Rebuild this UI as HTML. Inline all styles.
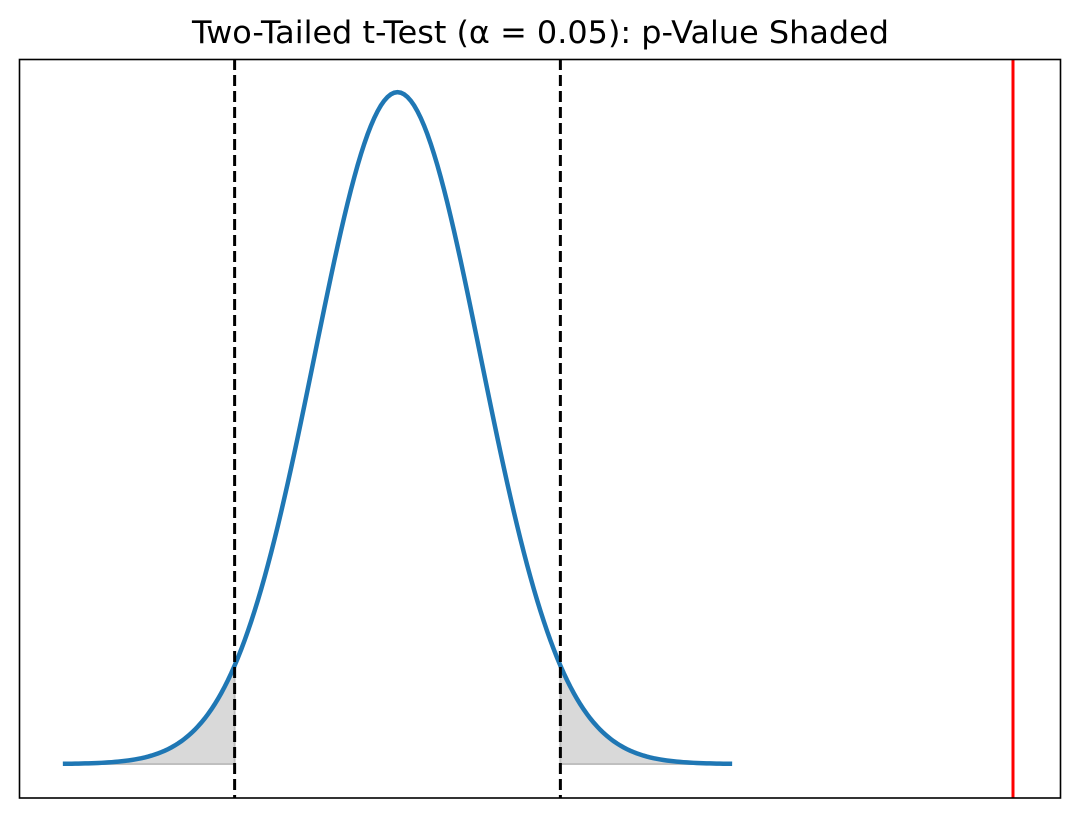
<!DOCTYPE html>
<html><head><meta charset="utf-8"><style>
body{margin:0;background:#fff;width:1080px;height:817px;overflow:hidden}
text{font-family:"DejaVu Sans","Liberation Sans",sans-serif}
</style></head><body>
<svg id="s" width="1080" height="817" xmlns="http://www.w3.org/2000/svg">
<text x="192" y="43" font-size="31" textLength="697" lengthAdjust="spacingAndGlyphs" fill="#000">Two-Tailed t-Test (α = 0.05): p-Value Shaded</text>
<g id="g"></g>
<rect x="19.5" y="59.5" width="1041" height="738.5" fill="none" stroke="#000" stroke-width="1.6"/>
</svg>
<script>
var cx=397.5,sx=83.1,by=764,sy=1684;
function X(t){return cx+t*sx}
function Y(t){return by-sy*Math.exp(-t*t/2)/Math.sqrt(2*Math.PI)}
function seg(a,b){var p=[];for(var i=0;i<=200;i++){var t=a+(b-a)*i/200;p.push(X(t).toFixed(2)+","+Y(t).toFixed(2));}return p;}
var c=1.96,h='';
function fill(a,b){var p=seg(a,b);return '<path d="M'+X(a)+','+by+' L'+p.join(' L')+' L'+X(b)+','+by+' Z" fill="#d9d9d9" stroke="#bfbfbf" stroke-width="2"/>';}
h+=fill(-4,-c)+fill(c,4);
h+='<polyline points="'+seg(-4,4).join(' ')+'" fill="none" stroke="#1f77b4" stroke-width="4.5" stroke-linecap="square"/>';
h+='<line x1="'+X(-c)+'" y1="59" x2="'+X(-c)+'" y2="798" stroke="#000" stroke-width="3" stroke-dasharray="11,5"/>';
h+='<line x1="'+X(c)+'" y1="59" x2="'+X(c)+'" y2="798" stroke="#000" stroke-width="3" stroke-dasharray="11,5"/>';
h+='<line x1="1013" y1="59" x2="1013" y2="798" stroke="#ff0000" stroke-width="3"/>';
document.getElementById('g').innerHTML=h;
</script>
</body></html>
